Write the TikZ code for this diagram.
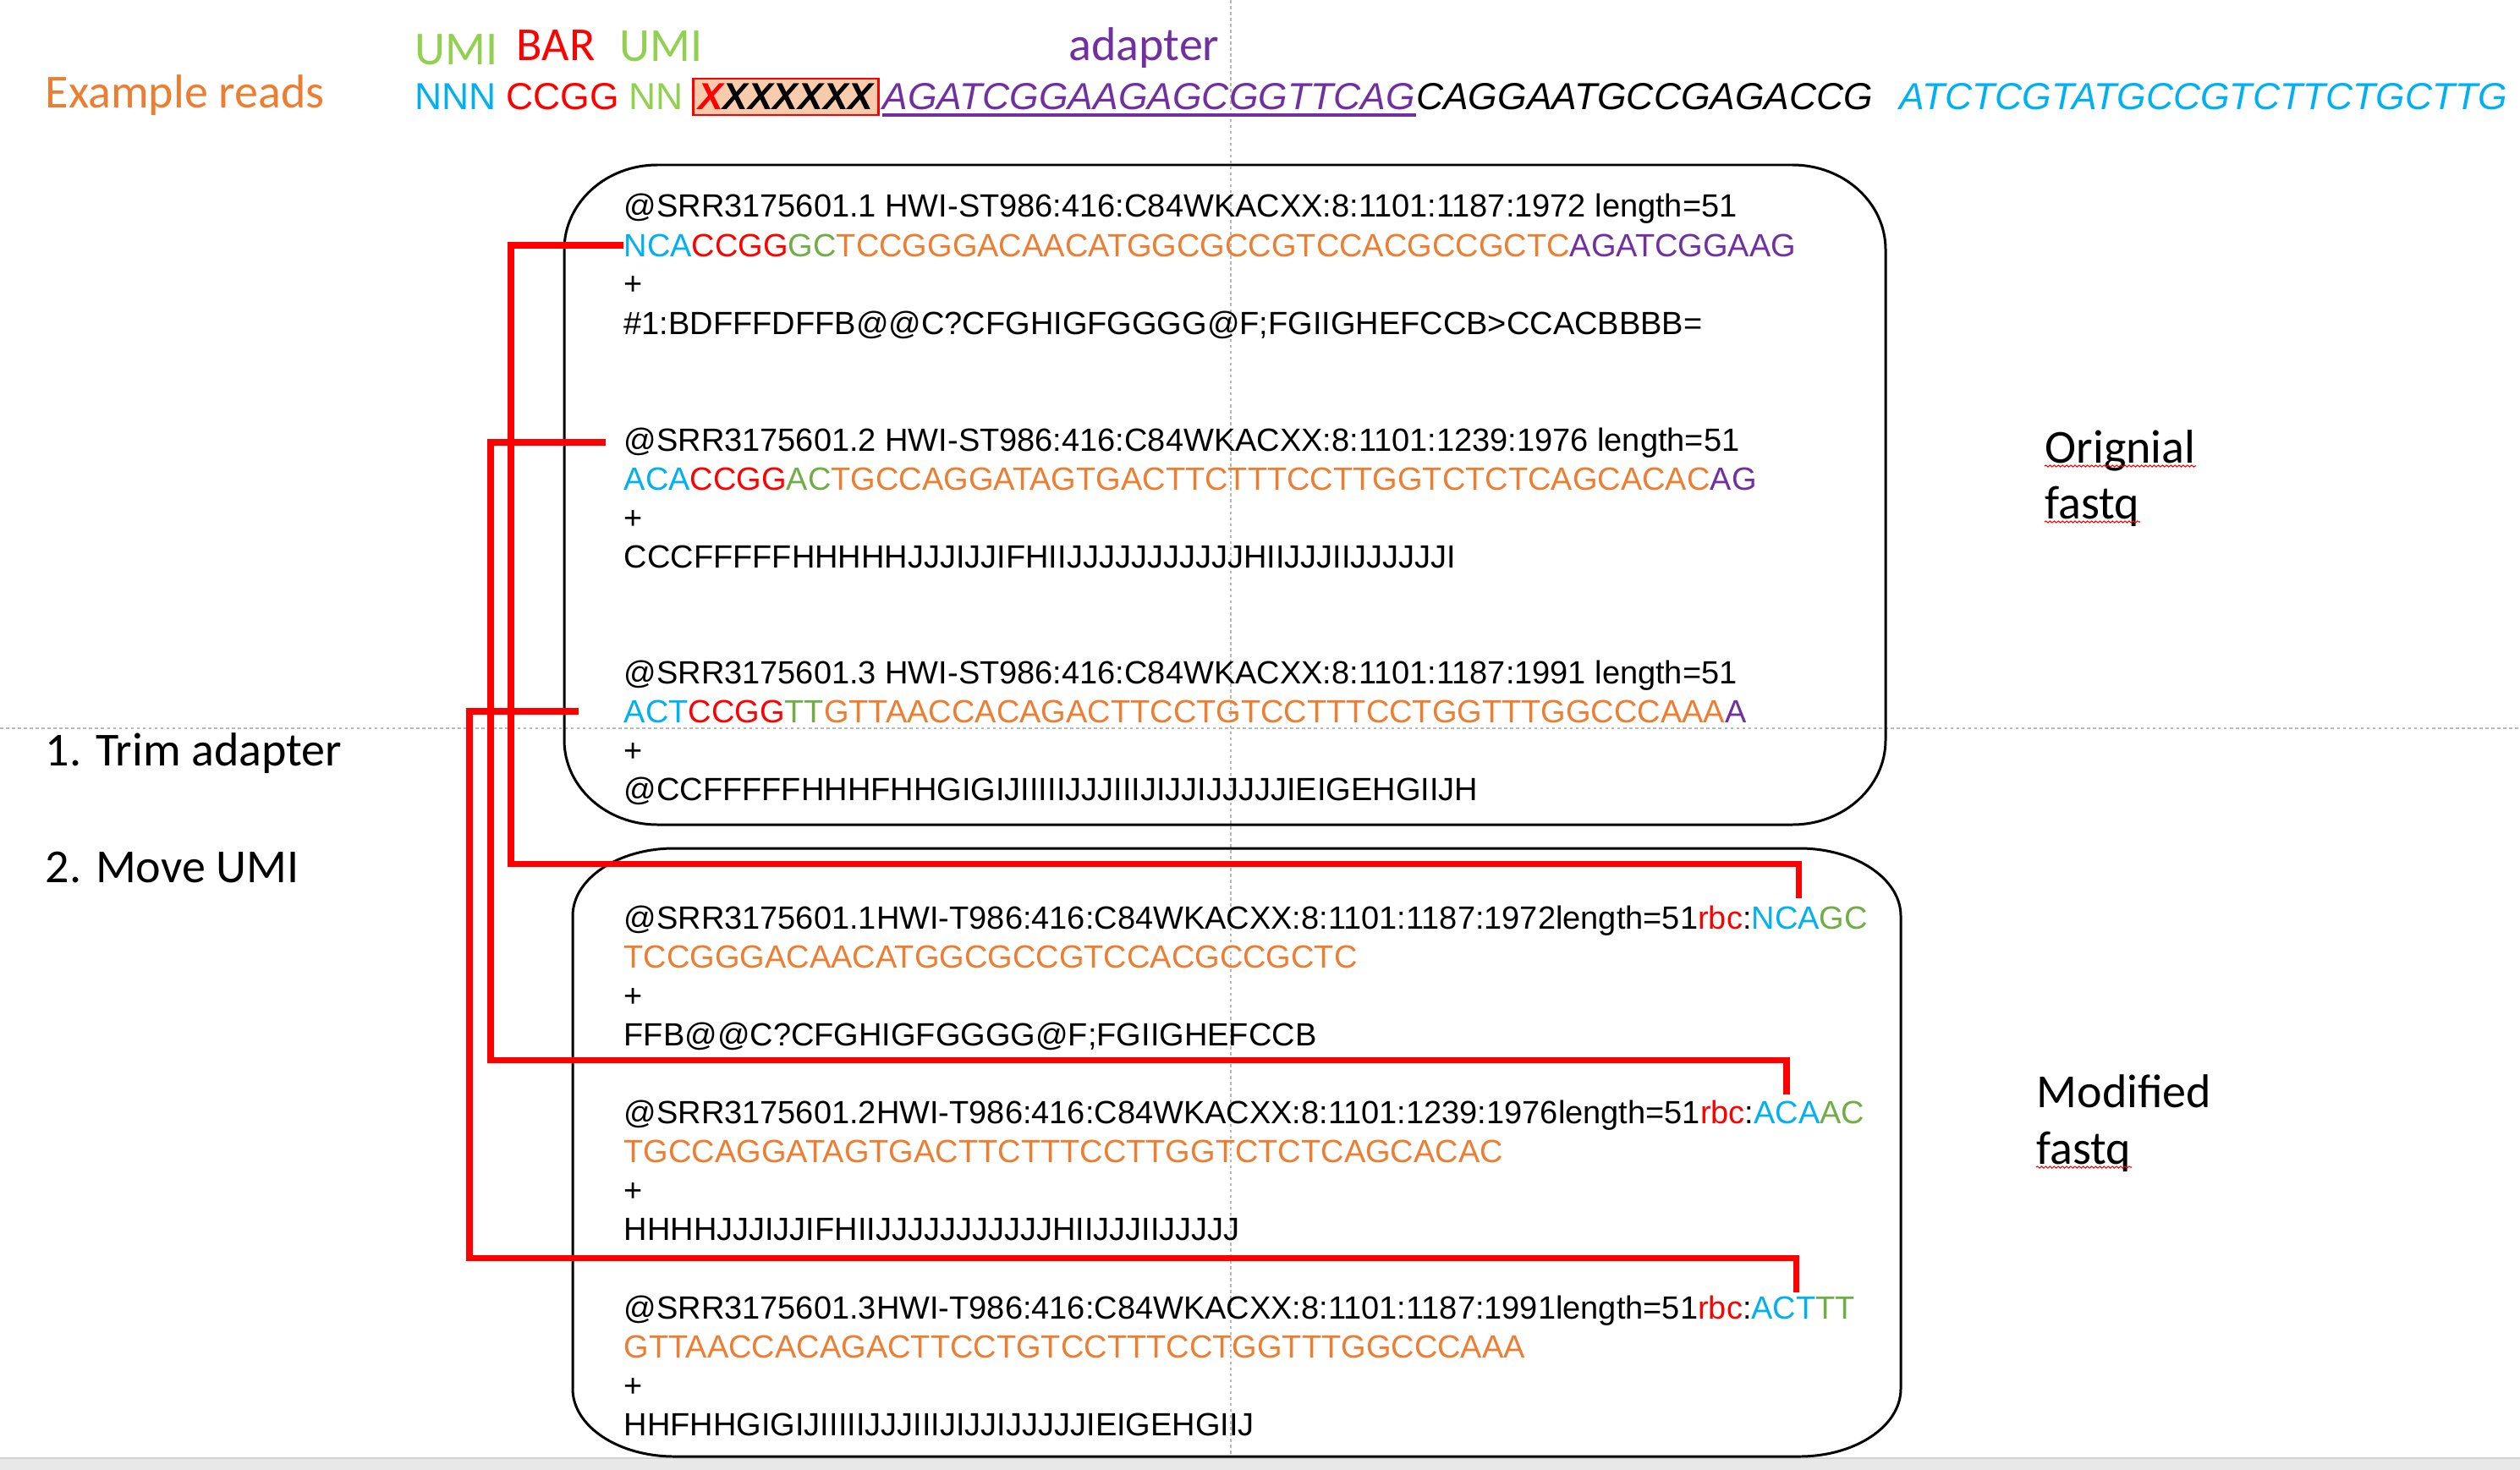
\documentclass[tikz,border=0pt]{standalone}
\usepackage{fontspec}
\usetikzlibrary{calc,decorations.pathmorphing}
\newfontfamily\arialfam{Liberation Sans}
\newfontfamily\calfam{Carlito}
\definecolor{umicyan}{HTML}{00B0F0}
\definecolor{umigreen}{HTML}{70AD47}
\definecolor{lblgreen}{HTML}{92D050}
\definecolor{insorange}{HTML}{ED7D31}
\definecolor{adpurple}{HTML}{7030A0}
\definecolor{xfill}{HTML}{F8CBAD}
\newcommand{\fqfont}{\arialfam\fontsize{10.81}{13}\selectfont}
\newcommand{\topfont}{\arialfam\fontsize{12.65}{15}\selectfont}
\newcommand{\lblfont}{\calfam\fontsize{15.93}{19}\selectfont}
% umi / barcode / umi / insert / adapter
\newcommand{\oseq}[5]{\textcolor{umicyan}{#1}\textcolor{red}{#2}\textcolor{umigreen}{#3}\textcolor{insorange}{#4}\textcolor{adpurple}{#5}}
\newcommand{\rbc}[2]{\textcolor{red}{rbc}:\textcolor{umicyan}{#1}\textcolor{umigreen}{#2}}
% one fastq record: name, baseline, header, sequence, quality
\newcommand{\fqread}[5]{%
    \node[fqline] (#1-hdr) at (7.37,#2) {#3};
    \node[fqline] (#1-seq) at (7.37,#2-0.46) {#4};
    \node[fqline] (#1-plus) at (7.37,#2-0.92) {+};
    \node[fqline] (#1-qual) at (7.37,#2-1.38) {#5};
}
% box with elliptic corners: x0, y0, x1, y1, rx, ry
\newcommand{\fqbox}[6]{%
    \draw[boxline] (#1+#5,#2) -- (#3-#5,#2)
        arc[start angle=90, end angle=0, x radius=#5, y radius=#6] -- (#3,#4+#6)
        arc[start angle=0, end angle=-90, x radius=#5, y radius=#6] -- (#1+#5,#4)
        arc[start angle=270, end angle=180, x radius=#5, y radius=#6] -- (#1,#2-#6)
        arc[start angle=180, end angle=90, x radius=#5, y radius=#6] -- cycle;
}

\begin{document}
\begin{tikzpicture}[
        fqline/.style={anchor=base west, inner sep=0pt, font=\fqfont},
        topseq/.style={anchor=base west, inner sep=0pt, font=\topfont},
        lbl/.style={anchor=base west, inner sep=0pt, font=\lblfont},
        boxline/.style={line width=0.85pt},
        umilink/.style={draw=red, line width=2.1pt},
        guide/.style={draw=gray!55, line width=0.3pt, dash pattern=on 1pt off 1pt},
        spell/.style={draw=red, line width=0.3pt, decorate, decoration={snake, amplitude=0.3pt, segment length=1.4pt}},
    ]
    \useasboundingbox (0,0) rectangle (29.79,-17.38);

    % Guides and status bar
    \draw[guide] (14.55,0) -- (14.55,-17.24);
    \draw[guide] (0,-8.61) -- (29.79,-8.61);
    \fill[gray!18] (0,-17.24) rectangle (29.79,-17.38);
    \draw[gray!35, line width=0.3pt] (0,-17.24) -- (29.79,-17.24);

    % Example read
    \node[lbl, text=insorange] (exlbl) at (0.53,-1.28) {Example reads};
    \node[lbl, text=lblgreen] (umiLlbl) at (4.90,-0.77) {UMI};
    \node[lbl, text=red] (barlbl) at (6.10,-0.72) {BAR};
    \node[lbl, text=lblgreen] (umiRlbl) at (7.32,-0.73) {UMI};
    \node[lbl, text=adpurple] (adlbl) at (12.63,-0.72) {adapter};

    \node[topseq, text=umicyan] (umiL) at (4.90,-1.30) {NNN};
    \node[topseq, text=red] (barS) at (5.98,-1.30) {CCGG};
    \node[topseq, text=lblgreen] (umiR) at (7.43,-1.30) {NN};
    \node[topseq, fill=xfill, draw=red, line width=0.85pt, inner xsep=0.055cm, text height=0.37cm, text depth=0.06cm] (insX) at (8.18,-1.30) {\bfseries\itshape\textcolor{red}{X}XXXXXX};
    \node[topseq, text=adpurple, font=\topfont\itshape] (adSeq) at (10.43,-1.30) {AGATCGGAAGAGCGGTTCAG};
    \draw[adpurple, line width=0.9pt] ([yshift=-0.06cm]adSeq.base west) -- ([yshift=-0.06cm]adSeq.base east);
    \node[topseq, font=\topfont\itshape] (insSeq) at (adSeq.base east) {CAGGAATGCCGAGACCG};
    \node[topseq, text=umicyan, font=\topfont\itshape] (p7Seq) at (22.45,-1.30) {ATCTCGTATGCCGTCTTCTGCTTG};

    % Original fastq
    \fqbox{6.67}{-1.95}{22.29}{-9.75}{1.1}{1.0}
    \fqread{origA}{-2.57}{@SRR3175601.1 HWI-ST986:416:C84WKACXX:8:1101:1187:1972 length=51}
        {\oseq{NCA}{CCGG}{GC}{TCCGGGACAACATGGCGCCGTCCACGCCGCTC}{AGATCGGAAG}}
        {\#1:BDFFFDFFB@@C?CFGHIGFGGGG@F;FGIIGHEFCCB>CCACBBBB=}
    \fqread{origB}{-5.33}{@SRR3175601.2 HWI-ST986:416:C84WKACXX:8:1101:1239:1976 length=51}
        {\oseq{ACA}{CCGG}{AC}{TGCCAGGATAGTGACTTCTTTCCTTGGTCTCTCAGCACAC}{AG}}
        {CCCFFFFFHHHHHJJJIJJIFHIIJJJJJJJJJJJHIIJJJIIJJJJJJI}
    \fqread{origC}{-8.08}{@SRR3175601.3 HWI-ST986:416:C84WKACXX:8:1101:1187:1991 length=51}
        {\oseq{ACT}{CCGG}{TT}{GTTAACCACAGACTTCCTGTCCTTTCCTGGTTTGGCCCAAA}{A}}
        {@CCFFFFFHHHFHHGIGIJIIIIIJJJIIIJIJJIJJJJJIEIGEHGIIJH}

    % Modified fastq
    \fqbox{6.77}{-10.03}{22.47}{-17.22}{1.2}{0.8}
    \fqread{modA}{-10.98}{@SRR3175601.1HWI-T986:416:C84WKACXX:8:1101:1187:1972length=51\rbc{NCA}{GC}}
        {\textcolor{insorange}{TCCGGGACAACATGGCGCCGTCCACGCCGCTC}}
        {FFB@@C?CFGHIGFGGGG@F;FGIIGHEFCCB}
    \fqread{modB}{-13.28}{@SRR3175601.2HWI-T986:416:C84WKACXX:8:1101:1239:1976length=51\rbc{ACA}{AC}}
        {\textcolor{insorange}{TGCCAGGATAGTGACTTCTTTCCTTGGTCTCTCAGCACAC}}
        {HHHHJJJIJJIFHIIJJJJJJJJJJJHIIJJJIIJJJJJ}
    \fqread{modC}{-15.59}{@SRR3175601.3HWI-T986:416:C84WKACXX:8:1101:1187:1991length=51\rbc{ACT}{TT}}
        {\textcolor{insorange}{GTTAACCACAGACTTCCTGTCCTTTCCTGGTTTGGCCCAAA}}
        {HHFHHGIGIJIIIIIJJJIIIJIJJIJJJJJIEIGEHGIIJ}

    % Side labels
    \node[lbl] (trimlbl) at (0.53,-9.05) {1. Trim adapter};
    \node[lbl] (movelbl) at (0.53,-10.43) {2. Move UMI};
    \node[lbl] (origlbl) at (24.17,-5.47) {Orignial};
    \node[lbl] (origfq) at (24.17,-6.13) {fastq};
    \node[lbl] (modlbl) at (24.07,-13.09) {Modified};
    \node[lbl] (modfq) at (24.07,-13.76) {fastq};
    \foreach \w in {origlbl,origfq,modfq}
        \draw[spell] ([yshift=-0.04cm]\w.base west) -- ([yshift=-0.04cm]\w.base east);

    % UMI moved into the read name
    \coordinate (umiA) at ([xshift=-0.82cm, yshift=0.08cm]modA-hdr.north east);
    \coordinate (umiB) at ([xshift=-0.93cm, yshift=0.06cm]modB-hdr.north east);
    \coordinate (umiC) at ([xshift=-0.70cm, yshift=0.03cm]modC-hdr.north east);
    \draw[umilink] (origA-seq.west) -- ++(-1.33,0) |- ([yshift=0.4cm]umiA) -- (umiA);
    \draw[umilink] ([xshift=-0.21cm]origB-hdr.west) -- ++(-1.36,0) |- ([yshift=0.4cm]umiB) -- (umiB);
    \draw[umilink] ([xshift=-0.53cm]origC-seq.west) -- ++(-1.29,0) |- ([yshift=0.4cm]umiC) -- (umiC);
\end{tikzpicture}
\end{document}
